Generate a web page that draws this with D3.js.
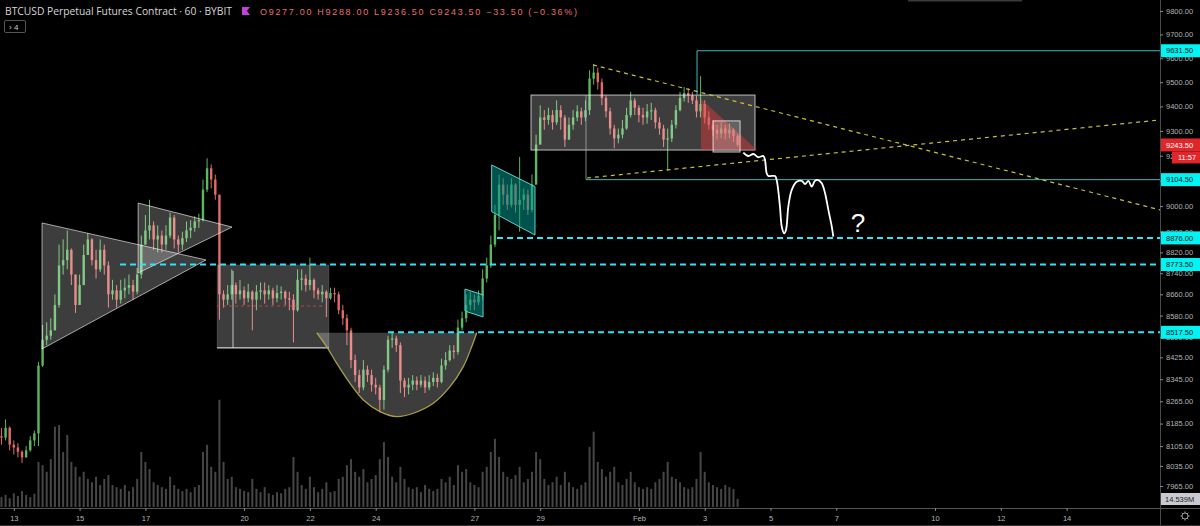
<!DOCTYPE html>
<html><head><meta charset="utf-8">
<script src="https://cdn.jsdelivr.net/npm/d3@7"></script>
<style>body{margin:0;background:#000;overflow:hidden}svg{display:block}</style>
</head><body><svg id="c" width="1200" height="526"></svg>
<script>
// ---------- DATA (3-hour candles) ----------
const candleStart = Date.UTC(2020,0,12,15);   // first candle open time
const candleHours = 3;
const firstOpen = 8140;
const closes = [
8135,8170,8110,8100,8085,8065,8090,8125,8150,8395,
8490,8505,8525,8620,8770,8790,8830,8735,8620,8695,
8810,8870,8790,8755,8830,8770,8660,8675,8640,8675,
8685,8695,8670,8735,8850,8905,8925,8870,8885,8850,
8885,8955,8870,8850,8875,8905,8915,8940,8945,9065,
9150,9105,9045,8660,8640,8660,8695,8660,8675,8645,
8670,8640,8670,8675,8660,8675,8645,8665,8670,8645,
8640,8600,8715,8720,8695,8715,8675,8660,8670,8645,
8665,8660,8600,8570,8525,8415,8360,8315,8380,8360,
8325,8315,8270,8380,8490,8495,8470,8340,8315,8325,
8340,8325,8340,8315,8335,8350,8335,8395,8415,8450,
8445,8535,8570,8620,8640,8630,8655,8720,8770,8850,
8965,9085,9045,9005,9085,9005,9025,9045,8985,9085,
9245,9355,9345,9365,9335,9385,9355,9265,9325,9355,
9380,9355,9385,9515,9540,9500,9435,9380,9310,9270,
9285,9310,9365,9425,9395,9365,9355,9380,9385,9335,
9310,9265,9270,9325,9385,9435,9455,9445,9425,9380,
9410,9355,9325,9305,9290,9310,9290,9305,9280,9243.5];
const highs = [
8170,8200,8175,8125,8115,8090,8105,8140,8160,8408,
8545,8555,8570,8660,8850,8870,8905,8835,8735,8735,
8850,8895,8875,8830,8870,8850,8785,8715,8695,8715,
8720,8735,8715,8760,8885,8965,9025,8940,8925,8905,
8925,8975,8965,8885,8900,8940,8945,8960,8970,9105,
9190,9165,9125,9045,8675,8695,8755,8705,8715,8690,
8700,8675,8695,8705,8705,8695,8685,8695,8690,8675,
8670,8660,8755,8755,8735,8800,8720,8685,8695,8675,
8685,8685,8670,8620,8585,8535,8435,8380,8415,8395,
8380,8350,8325,8395,8505,8515,8505,8480,8350,8350,
8360,8355,8360,8355,8360,8370,8365,8420,8445,8470,
8470,8565,8595,8660,8670,8660,8675,8755,8800,8885,
9005,9125,9110,9085,9110,9090,9195,9070,9065,9125,
9285,9405,9385,9395,9385,9425,9405,9365,9355,9385,
9405,9395,9425,9550,9575,9560,9515,9445,9395,9325,
9310,9345,9395,9460,9435,9405,9395,9410,9415,9395,
9355,9325,9310,9345,9405,9460,9480,9475,9460,9445,
9525,9425,9380,9345,9325,9335,9325,9330,9310,9288];
const lows = [
8110,8125,8090,8075,8065,8045,8065,8085,8105,8105,
8390,8470,8490,8525,8610,8735,8755,8695,8590,8620,
8695,8810,8770,8720,8745,8735,8610,8640,8610,8625,
8645,8660,8640,8660,8720,8850,8870,8830,8820,8820,
8830,8875,8835,8820,8830,8860,8875,8900,8915,8940,
9055,9070,9025,8565,8610,8620,8640,8625,8640,8620,
8630,8525,8600,8640,8625,8640,8620,8630,8640,8620,
8600,8480,8595,8675,8670,8675,8645,8640,8630,8575,
8640,8630,8585,8545,8470,8385,8335,8295,8305,8335,
8300,8290,8225,8235,8370,8460,8445,8295,8280,8290,
8305,8305,8315,8295,8305,8320,8315,8330,8380,8410,
8420,8435,8525,8555,8600,8600,8620,8640,8705,8760,
8840,8905,9005,8985,8995,8975,8900,8985,8965,8975,
9085,9245,9305,9325,9305,9325,9305,9235,9265,9305,
9340,9325,9340,9365,9490,9470,9405,9355,9285,9230,
9250,9270,9305,9355,9365,9335,9325,9330,9345,9310,
9285,9235,9140,9255,9310,9380,9420,9415,9410,9355,
9355,9330,9305,9280,9265,9270,9265,9270,9255,9236.5];
const volumes = [ // millions
18,22,16,25,20,29,22,18,24,82,
76,64,87,146,149,100,131,82,73,55,
64,51,45,55,40,51,58,40,36,33,
40,29,36,51,100,82,69,45,40,36,
33,55,40,33,29,33,27,36,40,100,
113,73,64,195,82,51,55,36,33,29,
27,51,33,27,36,25,22,27,25,33,
36,91,64,40,33,55,36,27,33,45,
27,29,51,55,76,87,64,55,69,45,
51,58,87,118,91,55,45,73,51,36,
33,36,27,40,33,29,33,51,45,55,
40,76,64,69,45,40,36,64,73,100,
124,91,64,55,51,58,73,45,51,64,
100,87,51,40,45,55,40,64,45,36,
33,40,45,109,137,82,69,55,64,73,
45,40,51,64,45,36,33,36,33,45,
51,64,82,55,51,45,36,33,36,51,
100,64,45,40,36,33,40,36,33,14.539];

const priceTicks = [9800,9700,9600,9500,9400,9300,9200,9100,9000,8900,8820,8740,8660,8580,8500,8425,8345,8265,8185,8105,8035,7965];
const timeTickDays = [[2020,0,13],[2020,0,15],[2020,0,17],[2020,0,20],[2020,0,22],[2020,0,24],[2020,0,27],[2020,0,29],[2020,1,1],[2020,1,3],[2020,1,5],[2020,1,7],[2020,1,10],[2020,1,12],[2020,1,14]];
const timeTickLabels = ["13","15","17","20","22","24","27","29","Feb","3","5","7","10","12","14"];

// drawings: [hours after 13 Jan 00:00, price]
const triangle1 = [[20.6,8934],[20.6,8456],[140.2,8791]];
const triangle2 = [[90.7,9012],[90.7,8741],[159.2,8918]];
const rangeBox1Hours = [148.3,229.9], rangeBox1Prices = [8772,8460];
const rangeBox1Mid = 8616, rangeBox1Mark = 159.9;
const cupCurve = [[221.0,8516],[228.3,8464],[235.6,8403],[245.3,8330],[255.0,8270],[267.1,8228],[279.3,8210],[291.4,8222],[306.0,8258],[318.2,8318],[327.9,8391],[334.0,8464],[337.7,8516]];
const flagSmall = [[329.1,8680],[342.3,8658],[342.3,8575],[329.1,8597]];
const flagBig = [[348.6,9163],[380.2,9077],[380.2,8887],[348.6,8978]];
const rangeBox2Hours = [377.3,540.7], rangeBox2Prices = [9447,9223];
const redTriangle = [[501.3,9431],[501.3,9223],[542.2,9223]];
const smallBoxHours = [510.1,529.8], smallBoxPrices = [9341,9215];
const solidLevels = [[9631.5,498.4],[9104.5,417.4]];       // [price, start hour]
const solidVerticals = [[498.4,9631.5,9447],[417.4,9104.5,9447]];
const dashedLevels = [[8876,352.5],[8773.5,77.5],[8517.5,273]];
const trendLines = [[[422.5,9572],[836.2,8985]],[[418.1,9111],[836.2,9345]]];
const projection = [[532.2,9213],[535.8,9199],[539.5,9207],[543.1,9194],[546.8,9199],[548.0,9183],[549.2,9130],[550.4,9119],[555.3,9119],[556.5,9103],[558.9,8998],[560.2,8920],[561.9,8894],[563.3,8907],[565.0,8998],[567.5,9064],[571.1,9096],[574.8,9100],[577.2,9087],[579.6,9100],[582.1,9077],[584.5,9100],[586.9,9103],[589.4,9090],[591.8,9051],[594.2,8985],[596.7,8920],[597.8,8881]];
const questionMark = [615.8,8900];
const lastPrice = 9243.5, countdown = "11:57", lastVolume = "14.539M";
const titleText = "BTCUSD Perpetual Futures Contract · 60 · BYBIT";
const ohlcText = "O9277.00 H9288.00 L9236.50 C9243.50 −33.50 (−0.36%)";

// ---------- CHART ----------
const plotR = 1160, plotB = 508;
const svg = d3.select('#c');
svg.append('rect').attr('width',1200).attr('height',526).attr('fill','#000');
const x = d3.scaleTime().domain([new Date(Date.UTC(2020,0,12,13,56)), new Date(Date.UTC(2020,1,16,20,8))]).range([0,plotR]);
const y = d3.scaleLog().domain([7965,9800]).range([486,11]);
const yv = d3.scaleLinear().domain([0,200]).range([507,397]);
const base = Date.UTC(2020,0,13);
const hx = h => x(new Date(base + h*3600e3));
const P = d => [hx(d[0]), y(d[1])];
const poly = pts => 'M' + pts.map(P).map(p=>p.join(',')).join('L') + 'Z';

svg.append('clipPath').attr('id','plot').append('rect').attr('width',plotR).attr('height',plotB);
const g = svg.append('g').attr('clip-path','url(#plot)');

const candles = closes.map((c,i)=>({t:new Date(candleStart + i*candleHours*3600e3), o: i?closes[i-1]:firstOpen, c, h:highs[i], l:lows[i], v:volumes[i]}));

// volume
g.append('g').selectAll('rect').data(candles).join('rect')
  .attr('x',d=>x(d.t)-1).attr('width',2)
  .attr('y',d=>yv(d.v)).attr('height',d=>yv(0)-yv(d.v))
  .attr('fill','rgba(140,140,140,0.5)');

// candles
const up = '#5cb860', dn = '#e26a6a';
const cg = g.append('g');
cg.selectAll('line').data(candles).join('line')
  .attr('x1',d=>x(d.t)).attr('x2',d=>x(d.t)).attr('y1',d=>y(d.h)).attr('y2',d=>y(d.l))
  .attr('stroke',d=>d.c>=d.o?up:dn).attr('stroke-width',1);
cg.selectAll('rect').data(candles).join('rect')
  .attr('x',d=>x(d.t)-1.2).attr('width',2.4)
  .attr('y',d=>y(Math.max(d.o,d.c))).attr('height',d=>Math.max(1,Math.abs(y(d.o)-y(d.c))))
  .attr('fill',d=>d.c>=d.o?up:dn);

// overlays
const grayFill = 'rgba(255,255,255,0.24)', grayLine = 'rgba(255,255,255,0.6)';
g.append('path').attr('d',poly(triangle1)).attr('fill',grayFill).attr('stroke',grayLine);
g.append('path').attr('d',poly(triangle2)).attr('fill',grayFill).attr('stroke',grayLine);
function box(hs, ps, fill, stroke){
  g.append('rect').attr('x',hx(hs[0])).attr('width',hx(hs[1])-hx(hs[0]))
   .attr('y',y(ps[0])).attr('height',y(ps[1])-y(ps[0]))
   .attr('fill',fill).attr('stroke',stroke);
}
box(rangeBox1Hours, rangeBox1Prices, grayFill, 'rgba(255,255,255,0.12)');
g.append('line').attr('x1',hx(rangeBox1Hours[0])).attr('x2',hx(rangeBox1Hours[1])).attr('y1',y(rangeBox1Prices[1])).attr('y2',y(rangeBox1Prices[1])).attr('stroke','rgba(255,255,255,0.75)').attr('stroke-width',1.3);
g.append('line').attr('x1',hx(rangeBox1Mark)).attr('x2',hx(rangeBox1Mark)).attr('y1',y(rangeBox1Prices[0])+6).attr('y2',y(rangeBox1Prices[1])).attr('stroke','rgba(255,255,255,0.7)');
g.append('line').attr('x1',hx(rangeBox1Hours[0])).attr('x2',hx(rangeBox1Hours[1])-6).attr('y1',y(rangeBox1Mid)).attr('y2',y(rangeBox1Mid)).attr('stroke','rgba(230,80,80,0.7)').attr('stroke-dasharray','3,3');

// cup
const cupLine = d3.line().x(d=>hx(d[0])).y(d=>y(d[1])).curve(d3.curveCatmullRom);
g.append('path').attr('d',cupLine(cupCurve)+'Z').attr('fill',grayFill);
g.append('path').attr('d',cupLine(cupCurve)).attr('fill','none').attr('stroke','#a89f45').attr('stroke-width',1.3);

// flags
g.append('path').attr('d',poly(flagSmall)).attr('fill','rgba(0,150,140,0.55)').attr('stroke','#5fd0c8');
g.append('path').attr('d',poly(flagBig)).attr('fill','rgba(0,150,140,0.55)').attr('stroke','#5fd0c8');

// range box 2 and red triangle
box(rangeBox2Hours, rangeBox2Prices, grayFill, 'rgba(255,255,255,0.7)');
g.append('path').attr('d',poly(redTriangle)).attr('fill','rgba(215,60,60,0.5)');
box(smallBoxHours, smallBoxPrices, 'rgba(255,255,255,0.2)', 'rgba(255,255,255,0.75)');

// solid cyan price-range lines
const cyanSolid = '#3cb8c4';
solidLevels.forEach(([p,h])=>{
  g.append('line').attr('x1',hx(h)).attr('x2',plotR).attr('y1',y(p)).attr('y2',y(p)).attr('stroke',cyanSolid);
});
solidVerticals.forEach(([h,p0,p1],i)=>{
  g.append('line').attr('x1',hx(h)).attr('x2',hx(h)).attr('y1',y(p0)).attr('y2',y(p1)).attr('stroke',i?'rgba(170,190,195,0.7)':cyanSolid);
});

// dashed horizontal levels
dashedLevels.forEach(([p,h])=>{
  g.append('line').attr('x1',hx(h)).attr('x2',plotR).attr('y1',y(p)).attr('y2',y(p))
   .attr('stroke','#2ee6f5').attr('stroke-width',2).attr('stroke-dasharray','6,4');
});

// yellow dashed trend lines
trendLines.forEach(l=>{
  g.append('line').attr('x1',P(l[0])[0]).attr('y1',P(l[0])[1]).attr('x2',P(l[1])[0]).attr('y2',P(l[1])[1])
   .attr('stroke','#c4c040').attr('stroke-width',1.2).attr('stroke-dasharray','4,4');
});

// projection
const projLine = d3.line().x(d=>hx(d[0])).y(d=>y(d[1])).curve(d3.curveCatmullRom);
g.append('path').attr('d',projLine(projection)).attr('fill','none').attr('stroke','#fff').attr('stroke-width',1.8);
g.append('text').attr('x',hx(questionMark[0])).attr('y',y(questionMark[1])).attr('text-anchor','middle')
 .attr('fill','#fff').attr('font-family','Liberation Sans, Arial, sans-serif').attr('font-size',26).text('?');

// ---------- AXES ----------
svg.append('line').attr('x1',plotR+0.5).attr('x2',plotR+0.5).attr('y1',0).attr('y2',526).attr('stroke','#4a4a4a');
svg.append('line').attr('x1',0).attr('x2',1200).attr('y1',plotB+0.5).attr('y2',plotB+0.5).attr('stroke','#555');
svg.append('line').attr('x1',0).attr('x2',1200).attr('y1',525.5).attr('y2',525.5).attr('stroke','#333');

const axisFont = 'Liberation Sans, Arial, sans-serif';
const yAxis = d3.axisRight(y).tickValues(priceTicks).tickSize(3).tickFormat(d3.format('.2f'));
const ya = svg.append('g').attr('transform',`translate(${plotR},0)`).call(yAxis);
ya.select('.domain').remove();
ya.selectAll('line').attr('stroke','#888');
ya.selectAll('text').attr('fill','#b4b4b4').attr('font-family',axisFont).attr('font-size',7.5).attr('x',6);

const timeTicks = timeTickDays.map(d=>new Date(Date.UTC(d[0],d[1],d[2])));
const xAxis = d3.axisBottom(x).tickValues(timeTicks).tickSize(3).tickFormat((d,i)=>timeTickLabels[i]);
const xa = svg.append('g').attr('transform',`translate(0,${plotB})`).call(xAxis);
xa.select('.domain').remove();
xa.selectAll('line').attr('stroke','#888');
xa.selectAll('text').attr('fill','#b4b4b4').attr('font-family',axisFont).attr('font-size',7.5).attr('dy','0.9em');

// axis price labels
function priceLabel(p, bg, fg, text, dx=0){
  const yy = y(p);
  svg.append('rect').attr('x',plotR+1+dx).attr('y',yy-6.5).attr('width',1200-plotR-1-dx).attr('height',13).attr('fill',bg);
  svg.append('text').attr('x',plotR+6+dx).attr('y',yy+2.7).attr('fill',fg).attr('font-family',axisFont).attr('font-size',7.5).text(text);
}
solidLevels.forEach(([p])=>priceLabel(p,'#00f4f4','#111',d3.format('.2f')(p)));
dashedLevels.forEach(([p])=>priceLabel(p,'#00f4f4','#111',d3.format('.2f')(p)));
priceLabel(lastPrice,'#e0262b','#fff',d3.format('.2f')(lastPrice));
svg.append('rect').attr('x',plotR+12).attr('y',y(lastPrice)+6.5).attr('width',1200-plotR-12).attr('height',12).attr('fill','#e0262b');
svg.append('text').attr('x',plotR+18).attr('y',y(lastPrice)+15.3).attr('fill','#fff').attr('font-family',axisFont).attr('font-size',7.5).text(countdown);

// volume label
svg.append('rect').attr('x',plotR+1).attr('y',yv(volumes[volumes.length-1])-6).attr('width',39).attr('height',12).attr('fill','#c9c9d2');
svg.append('text').attr('x',plotR+5).attr('y',yv(volumes[volumes.length-1])+2.7).attr('fill','#222').attr('font-family',axisFont).attr('font-size',7.5).text(lastVolume);

// gear icon
const gear = svg.append('g').attr('transform','translate(1185,516)');
gear.append('circle').attr('r',3).attr('fill','none').attr('stroke','#999');
d3.range(8).forEach(k=>{const a=k*Math.PI/4;gear.append('line').attr('x1',3*Math.cos(a)).attr('y1',3*Math.sin(a)).attr('x2',4.6*Math.cos(a)).attr('y2',4.6*Math.sin(a)).attr('stroke','#999');});

// ---------- HEADER ----------
svg.append('text').attr('x',5).attr('y',15).attr('fill','#d6d6d6').attr('font-family','Open Sans, Liberation Sans, sans-serif').attr('font-size',11).attr('textLength',227).attr('lengthAdjust','spacingAndGlyphs').text(titleText);
svg.append('path').attr('d','M242,7 L250,7 L247,11 L250,15 L242,15 Z').attr('fill','#c042d8');
svg.append('text').attr('x',260).attr('y',15).attr('fill','#e8706e').attr('font-family','Liberation Sans, sans-serif').attr('font-size',9).attr('textLength',317).attr('lengthAdjust','spacing').text(ohlcText);
svg.append('rect').attr('x',4.5).attr('y',20.5).attr('width',21).attr('height',12).attr('rx',1.5).attr('fill','none').attr('stroke','#555');
svg.append('text').attr('x',9).attr('y',29.5).attr('fill','#ccc').attr('font-family',axisFont).attr('font-size',8).text('›  4');
svg.append('rect').attr('x',908).attr('y',0).attr('width',114).attr('height',1.5).attr('fill','#3a3a3a');
</script>
</body></html>
